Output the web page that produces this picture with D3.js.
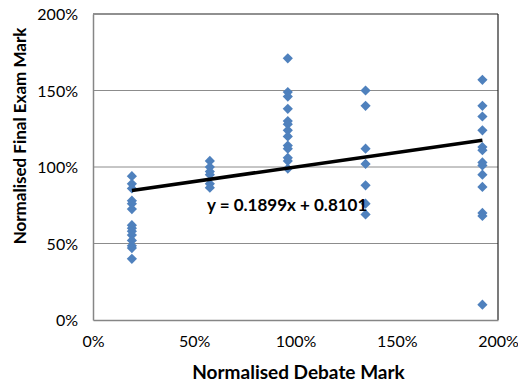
<!DOCTYPE html>
<html>
<head>
<meta charset="utf-8">
<script src="https://cdn.jsdelivr.net/npm/d3@7"></script>
<style>
  body { margin: 0; background: #fff; }
  text { font-family: Lato, "Open Sans", sans-serif; fill: #000; }
</style>
</head>
<body>
<svg width="518" height="385"></svg>
<script>
// debate marks (normalised) for each group of students
const debateMarks = [0.192, 0.577, 0.962, 1.346, 1.923];
// final exam marks (normalised), one list per debate mark
const examMarks = [
  [0.94, 0.89, 0.86, 0.78, 0.76, 0.725, 0.62, 0.60, 0.58, 0.555, 0.52, 0.485, 0.47, 0.40],
  [1.04, 1.00, 0.97, 0.95, 0.89, 0.865],
  [1.71, 1.49, 1.46, 1.38, 1.30, 1.28, 1.24, 1.20, 1.14, 1.12, 1.06, 1.04, 0.99],
  [1.50, 1.40, 1.12, 1.02, 0.88, 0.76, 0.69],
  [1.57, 1.40, 1.33, 1.24, 1.13, 1.11, 1.03, 1.01, 0.95, 0.87, 0.70, 0.68, 0.10]
];
const xTicks = [0, 0.5, 1, 1.5, 2];
const yTicks = [0, 0.5, 1, 1.5, 2];
const slope = 0.1899, intercept = 0.8101;

const points = [];
debateMarks.forEach((dx, i) => examMarks[i].forEach(v => points.push({x: dx, y: v})));

const svg = d3.select("svg");
const mLeft = 93, mRight = 498, mTop = 14, mBottom = 320;
const x = d3.scaleLinear().domain([0, 2]).range([mLeft, mRight]);
const y = d3.scaleLinear().domain([0, 2]).range([mBottom, mTop]);
const pct = d3.format(".0%");

// gridlines
svg.append("g").selectAll("line")
  .data(yTicks.filter(t => t > 0 && t < 2)).enter()
  .append("line")
  .attr("x1", mLeft).attr("x2", mRight)
  .attr("y1", d => y(d)).attr("y2", d => y(d))
  .attr("stroke", "#8c8c8c").attr("stroke-width", 1);

// plot border: top/right dark, axes grey
svg.append("line").attr("x1", mLeft).attr("x2", mRight).attr("y1", mTop).attr("y2", mTop)
  .attr("stroke", "#222").attr("stroke-width", 1.2);
svg.append("line").attr("x1", mRight).attr("x2", mRight).attr("y1", mTop).attr("y2", mBottom)
  .attr("stroke", "#222").attr("stroke-width", 1.2);

const xAxis = svg.append("g").attr("transform", `translate(0,${mBottom})`)
  .call(d3.axisBottom(x).tickValues(xTicks).tickFormat(pct).tickSize(0).tickPadding(13));
const yAxis = svg.append("g").attr("transform", `translate(${mLeft},0)`)
  .call(d3.axisLeft(y).tickValues(yTicks).tickFormat(pct).tickSize(0).tickPadding(15));
[xAxis, yAxis].forEach(a => {
  a.select(".domain").attr("stroke", "#868686").attr("stroke-width", 1.5);
  a.selectAll("text").style("font-size", "16px").attr("fill", "#000");
});
xAxis.selectAll("text").attr("dy", "0.9em");
yAxis.selectAll("text").attr("dy", "0.35em");

// points
const diamond = d3.symbol().type(d3.symbolSquare).size(52);
svg.append("g").selectAll("path")
  .data(points).enter()
  .append("path")
  .attr("d", diamond)
  .attr("transform", d => `translate(${x(d.x)},${y(d.y)}) rotate(45)`)
  .attr("fill", "#4f81bd");

// linear trendline
const xMin = d3.min(debateMarks), xMax = d3.max(debateMarks);
svg.append("line")
  .attr("x1", x(xMin)).attr("y1", y(slope * xMin + intercept))
  .attr("x2", x(xMax)).attr("y2", y(slope * xMax + intercept))
  .attr("stroke", "#000").attr("stroke-width", 3.6);

svg.append("text")
  .attr("x", x(0.563)).attr("y", 211)
  .style("font-size", "17px").style("font-weight", "bold")
  .text(`y = ${slope}x + ${intercept}`);

// axis titles
svg.append("text")
  .attr("x", (mLeft + mRight) / 2 + 3).attr("y", 379)
  .attr("text-anchor", "middle")
  .style("font-size", "19px").style("font-weight", "bold")
  .text("Normalised Debate Mark");
svg.append("text")
  .attr("transform", "translate(26,136) rotate(-90)")
  .attr("text-anchor", "middle")
  .style("font-size", "17px").style("font-weight", "bold")
  .text("Normalised Final Exam Mark");
</script>
</body>
</html>
